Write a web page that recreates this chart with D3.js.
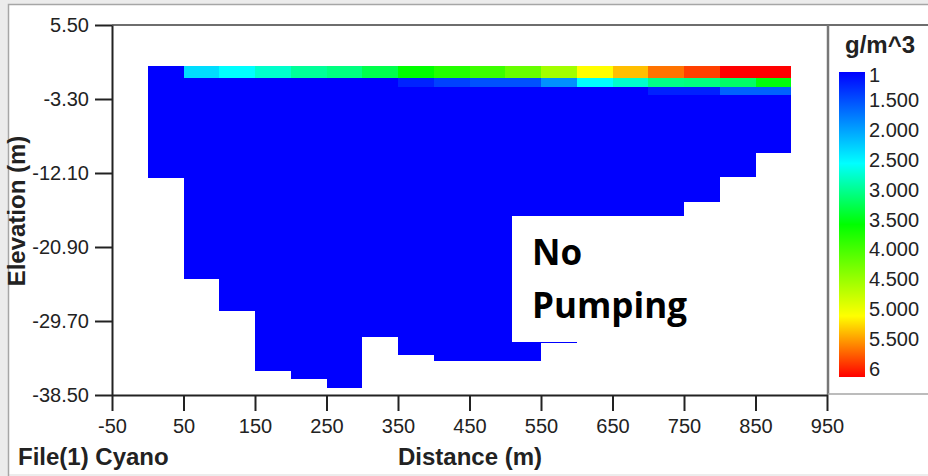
<!DOCTYPE html>
<head>
  <meta charset="utf-8">
  <script src="https://cdn.jsdelivr.net/npm/d3@7/dist/d3.min.js"></script>
  <style>
    body { margin: 0; background: #ececec; }
    svg { display: block; }
    text { font-family: "Liberation Sans", Arial, sans-serif; fill: #222; }
  </style>
</head>
<body>
  <script>

  // grid columns (left edge, m) and bottom elevation of each column (m)
  var colStart = [0, 50, 100, 150, 200, 250, 300, 350, 400, 450, 500, 550, 600, 650, 700, 750, 800, 850];
  var colWidth = 50;
  var bottomElev = [-12.7, -24.7, -28.5, -35.6, -36.6, -37.7, -31.6, -33.7, -34.5, -34.5, -34.5, -32.3, -30.5, -25.5, -20.0, -15.5, -12.6, -9.7];

  // top three layers (elevation of top / bottom) and their concentrations
  var layerTop = [0.6, -0.85, -1.85];
  var layerBottom = [-0.85, -1.85, -2.85];
  var layer1Conc = [1.0, 2.3, 2.5, 2.7, 2.9, 3.0, 3.2, 3.5, 3.7, 3.85, 4.1, 4.45, 5.0, 5.25, 5.55, 5.75, 6.0, 6.0];
  var layer2Conc = [1.0, 1.0, 1.0, 1.0, 1.0, 1.0, 1.0, 1.2, 1.38, 1.47, 1.47, 1.85, 2.5, 2.7, 2.97, 3.0, 3.1, 3.45];
  var layer3Conc = [1.0, 1.0, 1.0, 1.0, 1.0, 1.0, 1.0, 1.0, 1.0, 1.0, 1.0, 1.0, 1.0, 1.0, 1.19, 1.19, 1.57, 1.57];
  var baseConc = 1.0;

  // axes
  var xMajor = [-50, 50, 150, 250, 350, 450, 550, 650, 750, 850, 950];
  var xMinor = [0, 100, 200, 300, 400, 500, 600, 700, 800, 900];
  var yMajor = [5.5, -3.3, -12.1, -20.9, -29.7, -38.5];
  var yMinor = [3.3, 1.1, -1.1, -5.5, -7.7, -9.9, -14.3, -16.5, -18.7, -23.1, -25.3, -27.5, -31.9, -34.1, -36.3];

  // colour legend
  var colorStops = [1, 2.5, 3.5, 5, 6];
  var colorRange = ["#0000ff", "#00ffff", "#00ff00", "#ffff00", "#ff0000"];
  var legendValues = [1, 1.5, 2, 2.5, 3, 3.5, 4, 4.5, 5, 5.5, 6];
  var legendLabels = ["1", "1.500", "2.000", "2.500", "3.000", "3.500", "4.000", "4.500", "5.000", "5.500", "6"];

  var width = 928, height = 476;
  var plotLeft = 112, plotRight = 827, plotTop = 25, plotBottom = 395;

  var svg = d3.select("body").append("svg")
    .attr("width", width)
    .attr("height", height);

  // window frame
  svg.append("rect")
    .attr("x", 8).attr("y", 4)
    .attr("width", width - 8).attr("height", height - 6)
    .style("fill", "white");
  svg.append("path")
    .attr("d", "M8.5," + height + "V4.5H" + width)
    .style("fill", "none")
    .style("stroke", "#a6a6a6")
    .style("stroke-width", 1.5);

  var x = d3.scaleLinear().domain([-50, 950]).range([plotLeft, plotRight]);
  var y = d3.scaleLinear().domain([-38.5, 5.5]).range([plotBottom, plotTop]);
  var color = d3.scaleLinear().domain(colorStops).range(colorRange);

  // plain hyphen for negatives, like the original
  function hyphen(f) {
    return function(d) { return f(d).replace("\u2212", "-"); };
  }

  // cells
  var cells = [];
  colStart.forEach(function(x0, i) {
    cells.push({ x0: x0, top: layerBottom[2], bottom: bottomElev[i], c: baseConc });
    cells.push({ x0: x0, top: layerTop[0], bottom: layerBottom[0], c: layer1Conc[i] });
    cells.push({ x0: x0, top: layerTop[1], bottom: layerBottom[1], c: layer2Conc[i] });
    cells.push({ x0: x0, top: layerTop[2], bottom: layerBottom[2], c: layer3Conc[i] });
  });

  svg.append("g")
    .selectAll("rect")
    .data(cells)
    .enter()
    .append("rect")
    .attr("x", function(d) { return x(d.x0); })
    .attr("width", function(d) { return x(d.x0 + colWidth) - x(d.x0); })
    .attr("y", function(d) { return y(d.top); })
    .attr("height", function(d) { return y(d.bottom) - y(d.top); })
    .attr("shape-rendering", "crispEdges")
    .style("fill", function(d) { return color(d.c); });

  // frame lines of plot and legend panel
  svg.append("line")
    .attr("x1", plotLeft).attr("x2", width)
    .attr("y1", plotTop).attr("y2", plotTop)
    .style("stroke", "#6e6e6e").style("stroke-width", 2);
  svg.append("line")
    .attr("x1", plotRight + 1).attr("x2", plotRight + 1)
    .attr("y1", plotTop).attr("y2", plotBottom)
    .style("stroke", "#777").style("stroke-width", 2.5);
  svg.append("line")
    .attr("x1", plotRight + 1).attr("x2", width)
    .attr("y1", plotBottom - 1).attr("y2", plotBottom - 1)
    .style("stroke", "#a6a6a6").style("stroke-width", 1.5);

  // y axis
  var yAxisG = svg.append("g").attr("transform", "translate(" + plotLeft + ",0)");
  yAxisG.call(d3.axisLeft(y).tickValues(yMinor).tickSize(10).tickSizeOuter(0).tickFormat(""));
  yAxisG.call(d3.axisLeft(y).tickValues(yMajor).tickSize(17).tickSizeOuter(0).tickPadding(6)
    .tickFormat(hyphen(d3.format(".2f"))));

  // x axis
  var xAxisG = svg.append("g").attr("transform", "translate(0," + plotBottom + ")");
  xAxisG.call(d3.axisBottom(x).tickValues(xMinor).tickSize(9).tickSizeOuter(0).tickFormat(""));
  xAxisG.call(d3.axisBottom(x).tickValues(xMajor).tickSize(16).tickSizeOuter(0).tickPadding(8)
    .tickFormat(hyphen(d3.format("d"))));

  svg.selectAll(".domain").style("stroke", "#222").style("stroke-width", 2);
  svg.selectAll(".tick line").style("stroke", "#222").style("stroke-width", 2);
  svg.selectAll(".tick text")
    .style("font-size", "20px")
    .style("font-family", "'Liberation Sans', Arial, sans-serif")
    .style("fill", "#222");

  // axis titles
  svg.append("text")
    .attr("transform", "translate(25,211) rotate(-90)")
    .attr("text-anchor", "middle")
    .style("font-size", "24px")
    .style("font-weight", "bold")
    .text("Elevation (m)");

  svg.append("text")
    .attr("x", 470).attr("y", 465)
    .attr("text-anchor", "middle")
    .style("font-size", "24px")
    .style("font-weight", "bold")
    .text("Distance (m)");

  svg.append("text")
    .attr("x", 18).attr("y", 465)
    .style("font-size", "24px")
    .style("font-weight", "bold")
    .text("File(1) Cyano");

  // colour bar
  var grad = svg.append("defs").append("linearGradient")
    .attr("id", "cbar")
    .attr("x1", 0).attr("y1", 0).attr("x2", 0).attr("y2", 1);
  grad.selectAll("stop")
    .data(colorStops)
    .enter()
    .append("stop")
    .attr("offset", function(d) { return (d - 1) / 5; })
    .attr("stop-color", function(d) { return color(d); });

  var barY = d3.scaleLinear().domain([1, 6]).range([72, 377]);
  svg.append("rect")
    .attr("x", 839).attr("y", barY(1))
    .attr("width", 26).attr("height", barY(6) - barY(1))
    .style("fill", "url(#cbar)");

  var labelY = d3.scaleLinear().domain([1, 6]).range([70.5, 368.5]);
  svg.append("g")
    .selectAll("text")
    .data(legendValues)
    .enter()
    .append("text")
    .attr("x", 869)
    .attr("y", function(d) { return Math.max(labelY(d), 75); })
    .attr("dy", "0.35em")
    .style("font-size", "20px")
    .text(function(d, i) { return legendLabels[i]; });

  svg.append("text")
    .attr("x", 845).attr("y", 53)
    .style("font-size", "24px")
    .style("font-weight", "bold")
    .text("g/m^3");

  // annotation box
  svg.append("rect")
    .attr("x", 512).attr("y", 216)
    .attr("width", 180).attr("height", 126)
    .style("fill", "white");
  svg.append("text")
    .attr("x", 532).attr("y", 265)
    .style("font-family", "'Open Sans', sans-serif")
    .style("font-size", "35px")
    .style("font-weight", "bold")
    .style("fill", "#000")
    .text("No");
  svg.append("text")
    .attr("x", 532).attr("y", 318)
    .style("font-family", "'Open Sans', sans-serif")
    .style("font-size", "35px")
    .style("font-weight", "bold")
    .style("fill", "#000")
    .text("Pumping");

  </script>
</body>
